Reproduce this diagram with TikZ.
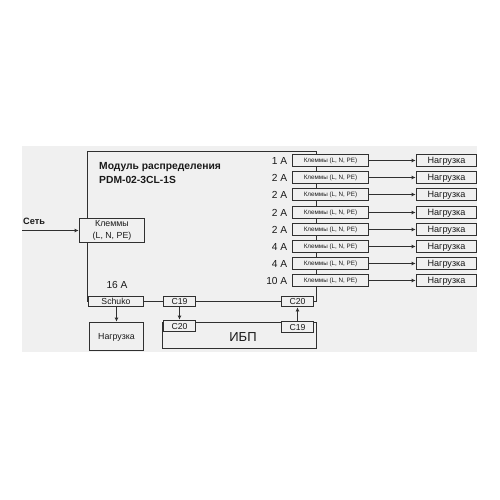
\documentclass[tikz,border=0pt]{standalone}
\usepackage{fontspec}
\setmainfont{Liberation Sans}
\usetikzlibrary{arrows.meta}
\definecolor{bgc}{HTML}{F0F0F0}
\definecolor{ln}{HTML}{303030}
\definecolor{tx}{HTML}{1A1A1A}
\tikzset{
  box/.style={draw=ln, line width=1.8pt, fill=bgc, inner sep=0pt, text=tx},
  term/.style={box, minimum width=76pt, minimum height=12pt, text height=4.5pt, text depth=0pt, font=\fontsize{6.3}{7}\selectfont},
  load/.style={box, minimum width=60pt, minimum height=12pt, text height=6.5pt, text depth=0pt, font=\fontsize{9.1}{10}\selectfont},
  conn/.style={box, minimum width=32pt, minimum height=10pt, text height=6.2pt, text depth=0pt, font=\fontsize{8.7}{10}\selectfont},
  wire/.style={draw=ln, line width=1.8pt},
  arr/.style={wire, -{Latex[length=4pt,width=4pt]}},
  amp/.style={anchor=east, inner sep=0pt, text=tx, font=\fontsize{10.2}{12}\selectfont},
}
\begin{document}
\begin{tikzpicture}[x=1pt,y=-1pt]
\useasboundingbox (0,0) rectangle (500,500);
\fill[white] (0,0) rectangle (500,500);
\fill[bgc] (22,146) rectangle (477,352);

% outline of module
\coordinate (tl) at (87.5,151.5);
\coordinate (tr) at (316.5,151.5);
\coordinate (br) at (316.5,301.5);
\coordinate (bl) at (87.5,301.5);
\draw[wire] (bl) -- (tl) -- (tr) -- (br);

% title
\node[anchor=west, inner sep=0pt, text=tx, font=\bfseries\fontsize{10.3}{12}\selectfont] (t1) at (99,167.5) {Модуль распределения};
\node[anchor=west, inner sep=0pt, text=tx, font=\bfseries\fontsize{10.3}{12}\selectfont] (t2) at (99,180) {PDM-02-3CL-1S};

% input
\node[box, minimum width=65pt, minimum height=24pt, align=center, font=\fontsize{8.8}{11.5}\selectfont] (kl) at (112,230.5) {Клеммы\\(L, N, PE)};
\node[anchor=west, inner sep=0pt, text=tx, font=\bfseries\fontsize{9.2}{11}\selectfont] (set) at (23,221.5) {Сеть};
\coordinate (inp) at (22,230.5);
\draw[arr] (inp) -- (kl.west);

% outputs
\foreach \i/\y/\a in {1/160.5/1,2/177.5/2,3/194.5/2,4/212.5/2,5/229.5/2,6/246.5/4,7/263.5/4,8/280.5/10}{
  \node[term] (k\i) at (330.5,\y) {Клеммы (L, N, PE)};
  \node[load] (n\i) at (446.5,\y) {Нагрузка};
  \node[amp] (a\i) at (287.5,\y) {\a\ A};
  \draw[arr] (k\i.east) -- (n\i.west);
}

% bottom part
\node[conn, minimum width=55pt] (sch) at (116,301.5) {Schuko};
\node[anchor=center, inner sep=0pt, text=tx, font=\fontsize{10.2}{12}\selectfont] (a16) at (117,284.5) {16 A};
\node[box, minimum width=54pt, minimum height=28pt, text height=6.3pt, text depth=0pt, font=\fontsize{8.8}{10}\selectfont] (nb) at (116.5,336.5) {Нагрузка};
\draw[wire] (bl) -- (sch.west);
\node[conn] (c19a) at (179.5,301.5) {C19};
\draw[wire] (sch.east) -- (c19a.west);
\coordinate (c20r) at (313.5,301.5);
\draw[wire] (c19a.east) -- (c20r) -- (br);
\node[conn] (c20a) at (297.5,301.5) {C20};
\draw[arr] (sch.south -| nb.north) -- (nb.north);

\node[draw=ln, line width=1.8pt, fill=bgc, minimum width=154pt, minimum height=26pt, inner sep=0pt] (ups) at (239.5,335.5) {};
\node[inner sep=0pt, text=tx, font=\fontsize{13}{14}\selectfont] (upsl) at (243,337) {ИБП};
\node[conn, minimum height=11pt] (c20b) at (179.5,326) {C20};
\node[conn, minimum height=11pt] (c19b) at (297.5,327) {C19};
\draw[arr] (c19a.south) -- (c20b.north -| c19a.south);
\draw[arr] (c19b.north) -- (c20a.south -| c19b.north);
\end{tikzpicture}
\end{document}
